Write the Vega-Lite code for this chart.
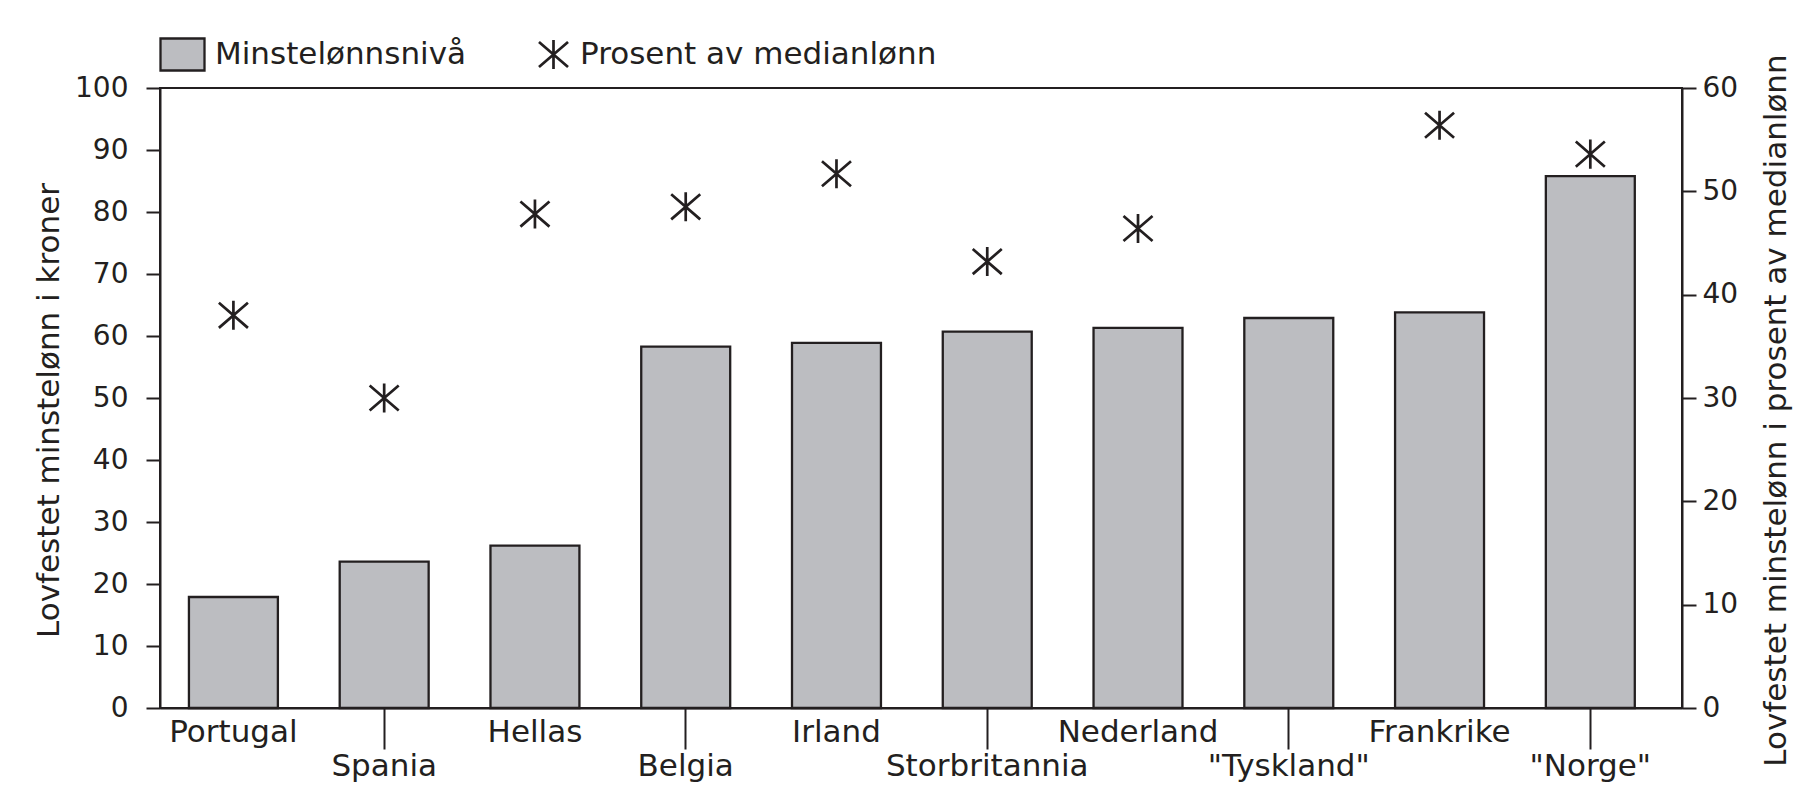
{
  "$schema": "https://vega.github.io/schema/vega-lite/v6.json",
  "autosize": {"type": "none"},
  "width": 1522,
  "height": 620,
  "padding": {"left": 160, "top": 88, "right": 112, "bottom": 102},
  "background": "white",
  "data": {
    "values": [
      {"land": "Portugal", "niva": 17.9, "prosent": 38.0},
      {"land": "Spania", "niva": 23.6, "prosent": 30.0},
      {"land": "Hellas", "niva": 26.2, "prosent": 47.8},
      {"land": "Belgia", "niva": 58.3, "prosent": 48.5},
      {"land": "Irland", "niva": 58.9, "prosent": 51.7},
      {"land": "Storbritannia", "niva": 60.7, "prosent": 43.2},
      {"land": "Nederland", "niva": 61.3, "prosent": 46.4},
      {"land": "\"Tyskland\"", "niva": 62.9, "prosent": null},
      {"land": "Frankrike", "niva": 63.8, "prosent": 56.4},
      {"land": "\"Norge\"", "niva": 85.8, "prosent": 53.6}
    ]
  },
  "encoding": {
    "x": {
      "field": "land",
      "type": "nominal",
      "sort": null,
      "scale": {"paddingInner": 0.41, "paddingOuter": 0.2525, "align": 0.38},
      "axis": {
        "title": null,
        "labelAngle": 0,
        "labelFontSize": 31,
        "labelLimit": 0,
        "tickSize": 41,
        "labelPadding": 0,
        "labelLineHeight": 34,
        "tickOpacity": {"condition": {"test": "indexof(['Spania','Belgia','Storbritannia','\"Tyskland\"','\"Norge\"'], datum.value) >= 0", "value": 1}, "value": 0},
        "labelBaseline": {"condition": {"test": "indexof(['Spania','Belgia','Storbritannia','\"Tyskland\"','\"Norge\"'], datum.value) >= 0", "value": "line-top"}, "value": "line-bottom"}
      }
    }
  },
  "layer": [
    {
      "mark": {"type": "bar", "stroke": "#231f20", "strokeWidth": 2.3},
      "encoding": {
        "y": {
          "field": "niva",
          "type": "quantitative",
          "scale": {"domain": [0, 100], "nice": false},
          "axis": {
            "orient": "left",
            "values": [0, 10, 20, 30, 40, 50, 60, 70, 80, 90, 100],
            "tickSize": 14,
            "labelPadding": 18,
            "labelFontSize": 28,
            "title": "Lovfestet minstelønn i kroner",
            "titlePadding": 9,
            "titleY": 322
          }
        },
        "fill": {
          "datum": "Minstelønnsnivå",
          "scale": {"range": ["#bcbdc1"]},
          "legend": {
            "orient": "none",
            "legendX": -1,
            "legendY": -57,
            "title": null,
            "symbolType": "M-1,-0.727L1,-0.727L1,0.727L-1,0.727Z",
            "symbolSize": 1936,
            "symbolStrokeColor": "#231f20",
            "symbolStrokeWidth": 2.3,
            "labelOffset": 9
          }
        }
      }
    },
    {
      "mark": {"type": "point", "filled": false, "stroke": "#231f20", "strokeWidth": 2.7, "opacity": 1, "size": 1936},
      "encoding": {
        "y": {
          "field": "prosent",
          "type": "quantitative",
          "scale": {"domain": [0, 60], "nice": false},
          "axis": {
            "orient": "right",
            "values": [0, 10, 20, 30, 40, 50, 60],
            "tickSize": 14,
            "labelPadding": 6,
            "labelFontSize": 28,
            "title": "Lovfestet minstelønn i prosent av medianlønn",
            "titleAngle": 270,
            "titleBaseline": "top",
            "titlePadding": 24,
            "titleY": 322
          }
        },
        "shape": {
          "datum": "Prosent av medianlønn",
          "scale": {"range": ["M0,-0.66L0,0.66M-0.66,-0.57L0.66,0.57M-0.66,0.57L0.66,-0.57"]},
          "legend": {
            "orient": "none",
            "legendX": 370,
            "legendY": -57,
            "title": null,
            "symbolSize": 1936,
            "symbolStrokeColor": "#231f20",
            "symbolStrokeWidth": 2.7,
            "symbolFillColor": "transparent",
            "labelOffset": 3
          }
        }
      }
    }
  ],
  "resolve": {"scale": {"y": "independent"}},
  "config": {
    "font": "DejaVu Sans",
    "view": {"stroke": "#231f20", "strokeWidth": 2},
    "axis": {
      "grid": false,
      "domainColor": "#231f20",
      "domainWidth": 2,
      "tickColor": "#231f20",
      "tickWidth": 2,
      "labelColor": "#231f20",
      "titleColor": "#231f20",
      "labelFont": "DejaVu Sans",
      "titleFont": "DejaVu Sans",
      "titleFontSize": 31,
      "titleFontWeight": "normal"
    },
    "legend": {
      "padding": 0,
      "labelFont": "DejaVu Sans",
      "labelFontSize": 31,
      "labelColor": "#231f20",
      "labelLimit": 0
    }
  }
}
